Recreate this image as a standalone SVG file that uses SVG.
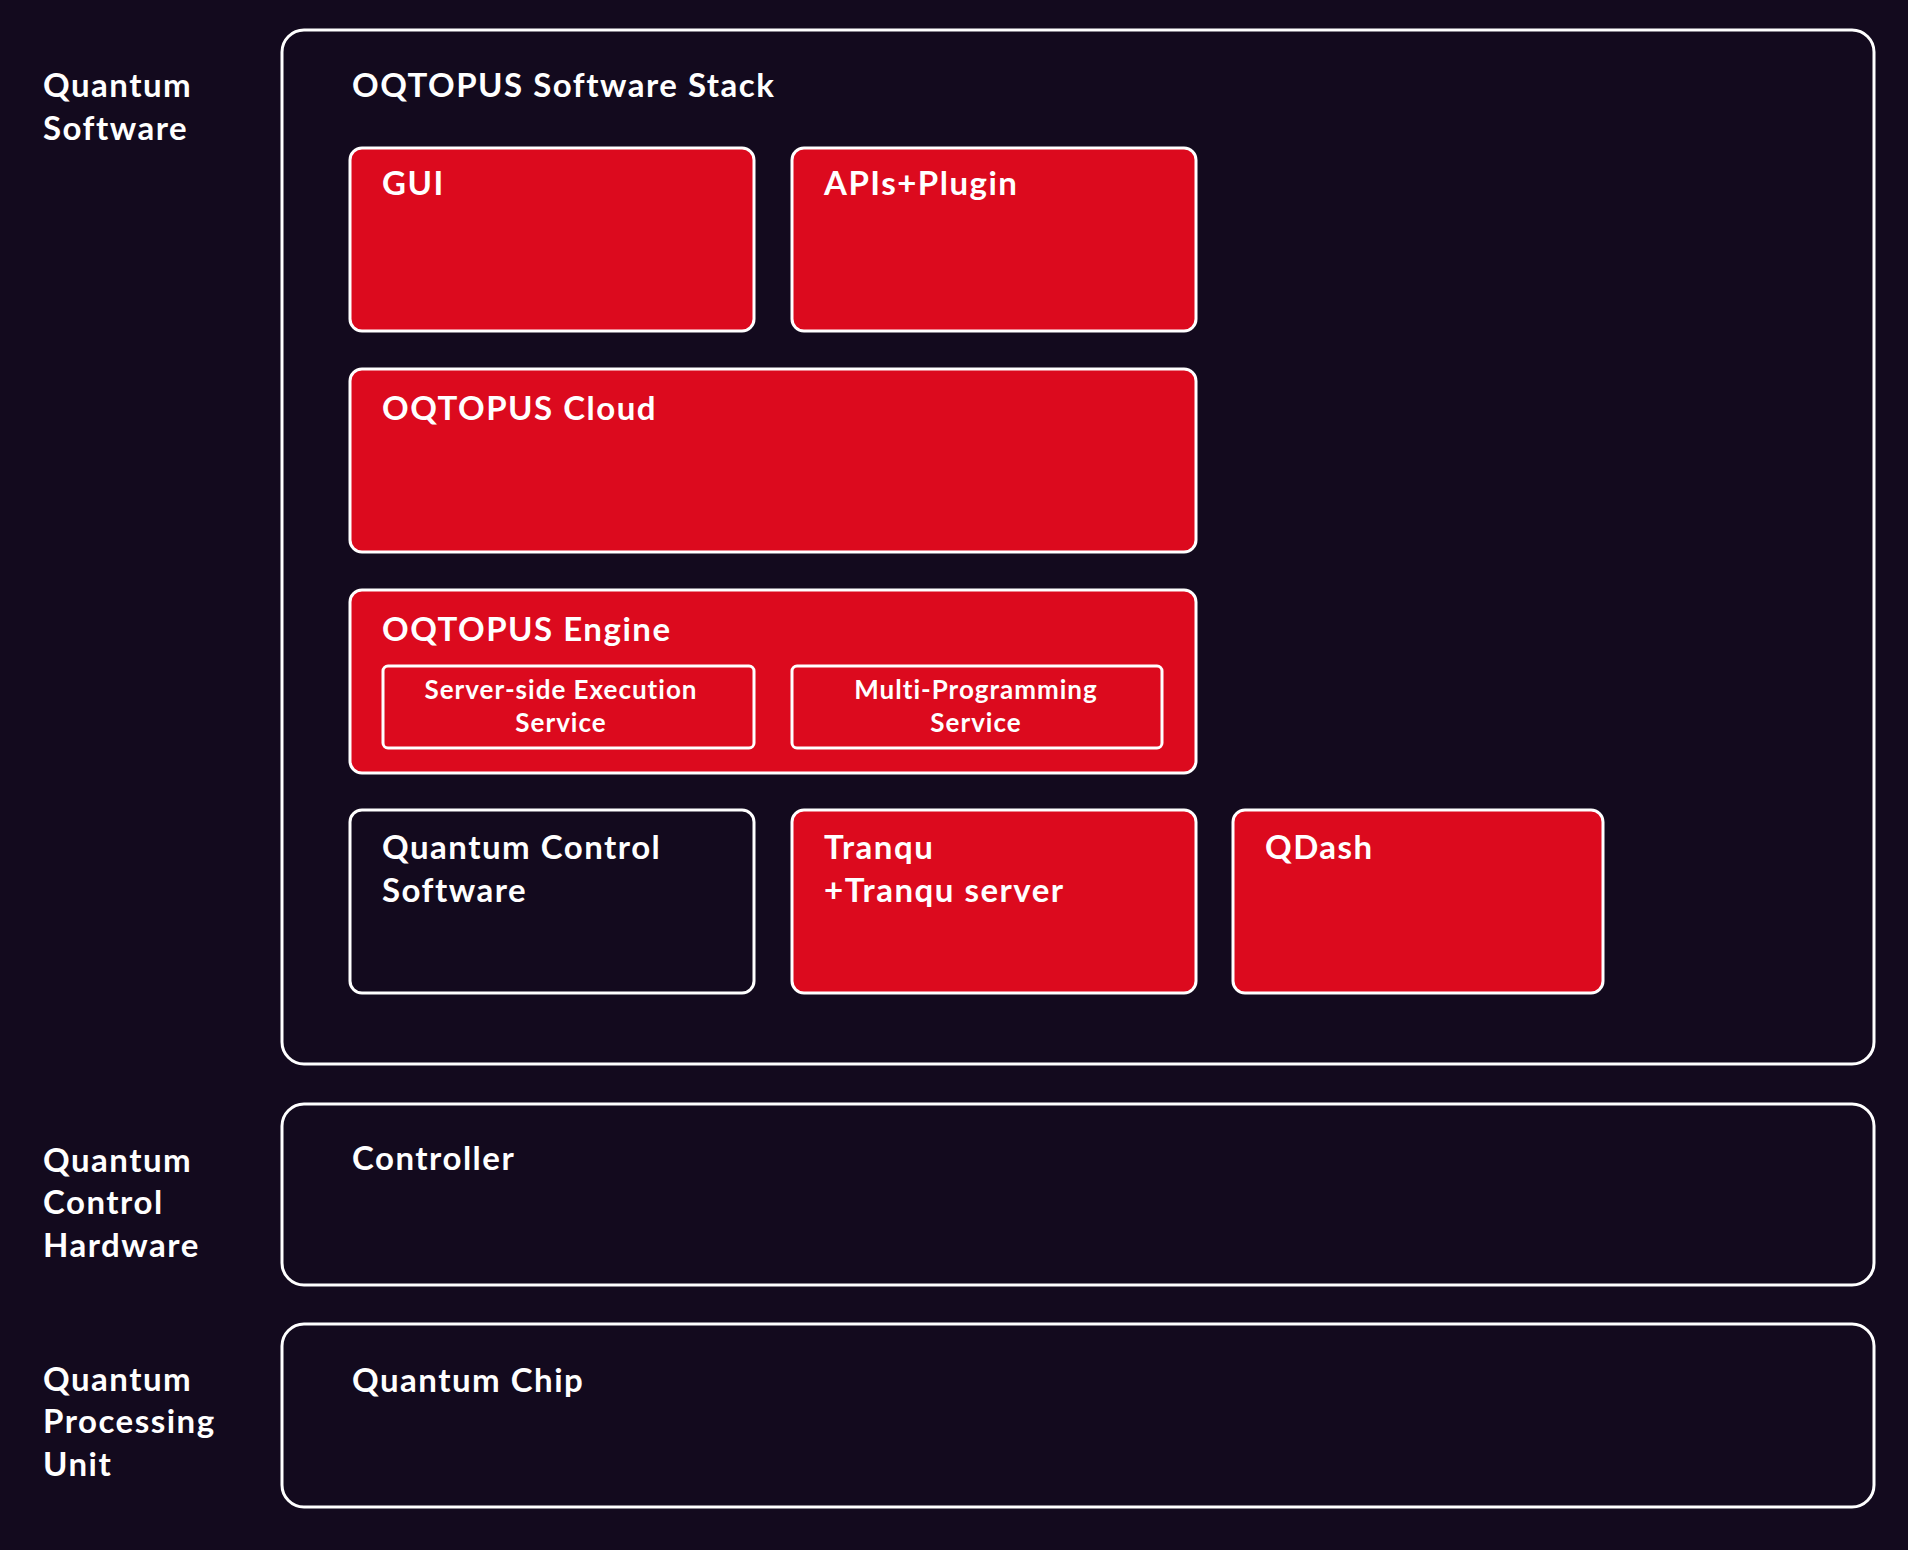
<svg xmlns="http://www.w3.org/2000/svg" width="1908" height="1550" viewBox="0 0 1908 1550">
<style>
.t{font-family:Lato,"Open Sans",sans-serif;font-weight:700;fill:#fff;font-size:33px;letter-spacing:1.5px}
.s{font-size:26px;letter-spacing:1px;text-anchor:middle}
.box{stroke:#fff;stroke-width:3;fill:#dc0a1e}
.dark{fill:#130a1e}
</style>
<rect width="1908" height="1550" fill="#130a1e"/>
<g id="labels">
<text class="t" x="43" y="97">Quantum</text><text class="t" x="43" y="140">Software</text>
<text class="t" x="43" y="1172">Quantum</text><text class="t" x="43" y="1214">Control</text><text class="t" x="43" y="1257">Hardware</text>
<text class="t" x="43" y="1391">Quantum</text><text class="t" x="43" y="1433">Processing</text><text class="t" x="43" y="1476">Unit</text>
</g>
<g id="stack"><rect class="box dark" x="282" y="30" width="1592" height="1034" rx="22"/><text class="t" x="352" y="97">OQTOPUS Software Stack</text></g>
<g id="gui"><rect class="box" x="350" y="148" width="404" height="183" rx="12"/><text class="t" x="382" y="195">GUI</text></g>
<g id="apis"><rect class="box" x="792" y="148" width="404" height="183" rx="12"/><text class="t" x="824" y="195">APIs+Plugin</text></g>
<g id="cloud"><rect class="box" x="350" y="369" width="846" height="183" rx="12"/><text class="t" x="382" y="420">OQTOPUS Cloud</text></g>
<g id="engine"><rect class="box" x="350" y="590" width="846" height="183" rx="12"/><text class="t" x="382" y="641">OQTOPUS Engine</text>
<g id="sse"><rect class="box" x="383" y="666" width="371" height="82" rx="5"/><text class="t s" x="561" y="699">Server-side Execution</text><text class="t s" x="561" y="732">Service</text></g>
<g id="mps"><rect class="box" x="792" y="666" width="370" height="82" rx="5"/><text class="t s" x="976" y="699">Multi-Programming</text><text class="t s" x="976" y="732">Service</text></g>
</g>
<g id="qcs"><rect class="box dark" x="350" y="810" width="404" height="183" rx="12"/><text class="t" x="382" y="859">Quantum Control</text><text class="t" x="382" y="902">Software</text></g>
<g id="tranqu"><rect class="box" x="792" y="810" width="404" height="183" rx="12"/><text class="t" x="824" y="859">Tranqu</text><text class="t" x="824" y="902">+Tranqu server</text></g>
<g id="qdash"><rect class="box" x="1233" y="810" width="370" height="183" rx="12"/><text class="t" x="1265" y="859">QDash</text></g>
<g id="controller"><rect class="box dark" x="282" y="1104" width="1592" height="181" rx="22"/><text class="t" x="352" y="1170">Controller</text></g>
<g id="chip"><rect class="box dark" x="282" y="1324" width="1592" height="183" rx="22"/><text class="t" x="352" y="1392">Quantum Chip</text></g>
<g id="connectors"/>
</svg>
